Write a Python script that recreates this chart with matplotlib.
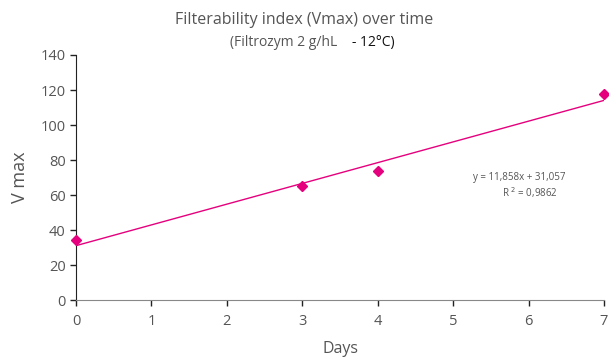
import numpy as np
import matplotlib
matplotlib.use('Agg')
from matplotlib import pyplot as plt

plt.rcParams['font.family'] = ['Open Sans', 'DejaVu Sans']

days = [0, 3, 4, 7]
vmax = [34.3, 65.1, 73.7, 117.7]
slope = 11.858
intercept = 31.057
r2 = 0.9862

pink = '#E5007D'
grey = '#555555'

fig = plt.figure(figsize=(6.09, 3.59), dpi=100)
ax = fig.add_axes([0.1248, 0.1643, 0.867, 0.6825])

trend_x = np.array([min(days), max(days)])
ax.plot(trend_x, slope * trend_x + intercept, color=pink, linewidth=1)
ax.plot(days, vmax, linestyle='none', marker='D', markersize=4.8, color=pink,
        clip_on=False, zorder=3)

ax.set_xlim(0, 7)
ax.set_ylim(0, 140)
ax.set_xticks(range(0, 8))
ax.set_yticks(range(0, 141, 20))
ax.tick_params(axis='both', colors='#222222', labelcolor=grey, labelsize=10.5,
               length=4, width=1)
ax.tick_params(axis='x', pad=6)
ax.spines['top'].set_visible(False)
ax.spines['right'].set_visible(False)
ax.spines['left'].set_color('#222222')
ax.spines['bottom'].set_color('#888888')

ax.set_xlabel('Days', fontsize=11.5, color=grey, labelpad=9)
ax.set_ylabel('V max', fontsize=13, color=grey, labelpad=8)

fig.text(0.5, 0.945, 'Filterability index (Vmax) over time', ha='center',
         va='center', fontsize=11.5, color=grey)
fig.text(0.578, 0.883, '(Filtrozym 2 g/hL    ', ha='right', va='center',
         fontsize=10, color=grey)
fig.text(0.578, 0.883, '- 12°C)', ha='left', va='center',
         fontsize=10, color='#111111')

eq = 'y = ' + f'{slope:.3f}'.replace('.', ',') + 'x + ' + f'{intercept:.3f}'.replace('.', ',')
ax.text(0.84, 0.50, eq, transform=ax.transAxes, ha='center', va='center',
        fontsize=7, color=grey)
ax.text(0.86, 0.44, 'R $^2$ = ' + f'{r2:.4f}'.replace('.', ','), transform=ax.transAxes,
        ha='center', va='center', fontsize=7, color=grey)

fig.savefig('out.png', dpi=100)
